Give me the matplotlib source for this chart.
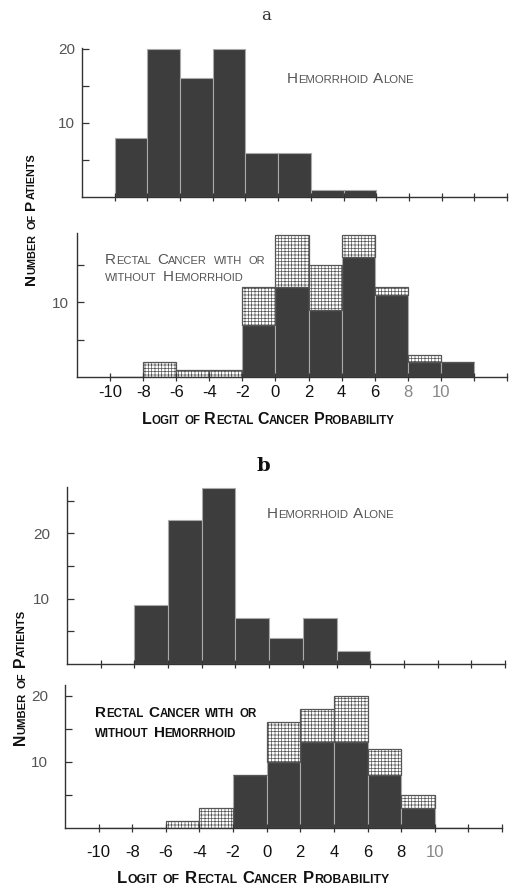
import numpy as np
import matplotlib
matplotlib.use('Agg')
import matplotlib.pyplot as plt

# dados (contagem de pacientes por faixa de logit)
bin_left = [-10, -8, -6, -4, -2, 0, 2, 4, 6, 8, 10]
a_hem = [8, 20, 16, 20, 6, 6, 1, 1, 0, 0, 0]
a_rc_dark = [0, 0, 0, 0, 7, 12, 9, 16, 11, 2, 2]
a_rc_total = [0, 2, 1, 1, 12, 19, 15, 19, 12, 3, 2]
b_hem = [0, 9, 22, 27, 7, 4, 7, 2, 0, 0, 0]
b_rc_dark = [0, 0, 0, 0, 8, 10, 13, 13, 8, 3, 0]
b_rc_total = [0, 0, 1, 3, 8, 16, 18, 20, 12, 5, 0]
xtick_labels = ['-10', '-8', '-6', '-4', '-2', '0', '2', '4', '6', '8', '10']

W, H = 511, 886
FONT = ['Liberation Sans', 'DejaVu Sans']
DARK = '#3d3d3d'

plt.rcParams['font.family'] = FONT
plt.rcParams['hatch.linewidth'] = 0.5

fig = plt.figure(figsize=(W / 100, H / 100), dpi=100)
renderer = fig.canvas.get_renderer()


def px_axes(left, right, base, top):
    # caixa em pixels da imagem -> fracao da figura
    return fig.add_axes([left / W, 1 - base / H, (right - left) / W, (base - top) / H])


def small_caps(x, y, s, big, small, rotation=0, weight='normal', color='#333333', gap=0.6):
    # escreve texto em "small caps": primeira letra maiuscula grande, resto menor
    gap = small * gap
    pos = 0.0
    for i, word in enumerate(s.split(' ')):
        if i > 0:
            pos += gap
        if word[0].isupper():
            parts = [(word[0], big), (word[1:].upper(), small)]
        else:
            parts = [(word.upper(), small)]
        for txt, size in parts:
            if not txt:
                continue
            if rotation == 0:
                tx, ty = x + pos, y
            else:
                tx, ty = x, y - pos
            t = fig.text(tx / W, 1 - ty / H, txt, fontsize=size, weight=weight,
                         color=color, ha='left', va='baseline',
                         rotation=rotation, rotation_mode='anchor')
            bb = t.get_window_extent(renderer)
            pos += bb.width if rotation == 0 else bb.height


def style_axis(ax, ymax, yticks, ylabels, show_x, ypad, xpad=5, grey_from=None):
    ax.set_xlim(-12, 14)
    ax.set_ylim(0, ymax)
    for s in ['top', 'right']:
        ax.spines[s].set_visible(False)
    for s in ['left', 'bottom']:
        ax.spines[s].set_linewidth(1.0)
        ax.spines[s].set_color('#333333')
    ax.set_xticks(np.arange(-10, 15, 2))
    if show_x:
        ax.set_xticklabels(xtick_labels + ['', ''])
    else:
        ax.set_xticklabels([])
    ax.set_yticks(yticks)
    ax.set_yticklabels(ylabels)
    ax.tick_params(axis='x', direction='inout', length=6, width=0.9, color='#333333',
                   labelsize=12, pad=xpad, labelcolor='#111111')
    ax.tick_params(axis='y', direction='in', length=5, width=0.9, color='#333333',
                   labelsize=11, pad=ypad, labelcolor='#555555')
    # alguns numeros saem mais claros na impressao original
    if grey_from is not None:
        for lab in ax.get_xticklabels()[grey_from:]:
            lab.set_color('#888888')
    ax.patch.set_alpha(0)


def draw_hem(ax, counts):
    ax.bar(bin_left, counts, width=2, align='edge', color=DARK,
           edgecolor='#aaaaaa', linewidth=0.8)


def draw_rc(ax, dark, total):
    extra = [t - d for t, d in zip(total, dark)]
    ax.bar(bin_left, dark, width=2, align='edge', color=DARK,
           edgecolor='#aaaaaa', linewidth=0.8)
    ax.bar(bin_left, extra, bottom=dark, width=2, align='edge', color='white',
           edgecolor='#555555', hatch='+++++', linewidth=0.9)


# ---- painel a ----
ax1 = px_axes(82, 507, 197, 48)
draw_hem(ax1, a_hem)
style_axis(ax1, 20.1, [5, 10, 15, 20], ['', '10', '', '20'], False, 5)

ax2 = px_axes(77, 507, 377, 233)
draw_rc(ax2, a_rc_dark, a_rc_total)
style_axis(ax2, 19.2, [5, 10, 15], ['', '10', ''], True, 6, xpad=3, grey_from=9)

# ---- painel b ----
ax3 = px_axes(67, 505, 664, 487)
draw_hem(ax3, b_hem)
style_axis(ax3, 27.1, [5, 10, 15, 20, 25], ['', '10', '', '20', ''], False, 12)

ax4 = px_axes(65, 502, 828, 685)
draw_rc(ax4, b_rc_dark, b_rc_total)
style_axis(ax4, 21.6, [5, 10, 15, 20], ['', '10', '', '20'], True, 12, xpad=9, grey_from=10)

# titulos das partes
fig.text(266 / W, 1 - 16 / H, 'a', family='DejaVu Serif', fontsize=12,
         ha='center', va='center', color='#333333')
fig.text(263 / W, 1 - 466 / H, 'b', family='DejaVu Serif', fontsize=14,
         weight='bold', ha='center', va='center', color='#111111')

# textos dentro dos graficos
small_caps(287, 83, 'Hemorrhoid Alone', 11, 8.2, color='#555555')
small_caps(105, 264, 'Rectal Cancer with or', 11, 8, color='#555555', gap=0.8)
small_caps(105, 281, 'without Hemorrhoid', 11, 8, color='#555555', gap=0.8)
small_caps(267, 518, 'Hemorrhoid Alone', 11, 8.2, color='#555555')
small_caps(95, 717, 'Rectal Cancer with or', 11, 8.3, weight='bold', color='#111111')
small_caps(95, 737, 'without Hemorrhoid', 11, 8.3, weight='bold', color='#111111')

# rotulos dos eixos
small_caps(142, 424, 'Logit of Rectal Cancer Probability', 11.5, 8.3, weight='bold',
           color='#111111', gap=0.5)
small_caps(117, 883, 'Logit of Rectal Cancer Probability', 12, 8.8, weight='bold',
           color='#111111', gap=0.6)
small_caps(35, 285, 'Number of Patients', 11, 7.8, rotation=90, weight='bold',
           color='#111111', gap=0.6)
small_caps(25, 745, 'Number of Patients', 11.3, 8.1, rotation=90, weight='bold',
           color='#111111', gap=0.6)

fig.savefig('out.png', dpi=100)
